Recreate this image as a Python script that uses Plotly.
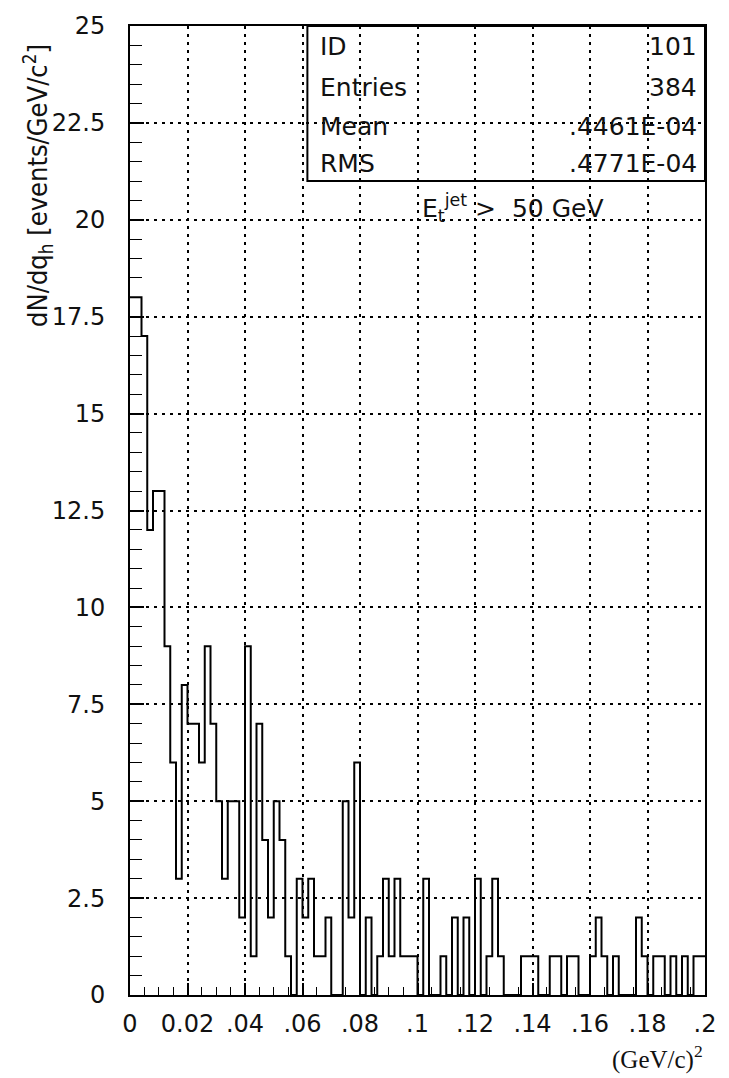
import numpy as np
import plotly.graph_objects as go

# ---------------- data ----------------
bin_lo = 0.0
bin_width = 0.002
counts = [
    18, 18, 17, 12, 13, 13, 9, 6, 3, 8,
    7, 7, 6, 9, 7, 5, 3, 5, 5, 2,
    9, 1, 7, 4, 2, 5, 4, 1, 0, 3,
    2, 3, 1, 1, 2, 0, 0, 5, 2, 6,
    0, 2, 0, 1, 3, 1, 3, 1, 1, 1,
    0, 3, 0, 0, 1, 0, 2, 0, 2, 0,
    3, 0, 1, 3, 1, 0, 0, 0, 1, 1,
    1, 0, 0, 1, 1, 0, 1, 1, 0, 0,
    1, 2, 1, 0, 1, 0, 0, 0, 2, 1,
    0, 1, 1, 0, 1, 0, 1, 0, 1, 1,
]
x_tick_vals = [0, 0.02, 0.04, 0.06, 0.08, 0.1, 0.12, 0.14, 0.16, 0.18, 0.2]
x_tick_text = ["0", "0.02", ".04", ".06", ".08", ".1", ".12", ".14", ".16", ".18", ".2"]
y_tick_vals = [0, 2.5, 5, 7.5, 10, 12.5, 15, 17.5, 20, 22.5, 25]
y_tick_text = ["0", "2.5", "5", "7.5", "10", "12.5", "15", "17.5", "20", "22.5", "25"]
stats_labels = ["ID", "Entries", "Mean", "RMS"]
stats_values = ["101", "384", ".4461E-04", ".4771E-04"]
cut_text = "E<sub>t</sub><sup>jet</sup> >  50 GeV"
y_title = "dN/dq<sub>h</sub> [events/GeV/c<sup>2</sup>]"
x_title = "(GeV/c)<sup>2</sup>"

# ---------------- figure ----------------
edges = bin_lo + bin_width * np.arange(len(counts) + 1)
step_y = list(counts) + [counts[-1]]

fig = go.Figure()
fig.add_trace(go.Scatter(
    x=edges, y=step_y, mode="lines",
    line=dict(shape="hv", color="black", width=2),
    showlegend=False, hoverinfo="skip",
))

SANS = "DejaVu Sans, Liberation Sans, sans-serif"
NARROW = "Liberation Sans Narrow, DejaVu Sans Condensed, sans-serif"
SERIF = "Liberation Serif, DejaVu Serif, serif"
grid_dash = "3px,5px"

fig.update_layout(
    width=729, height=1078,
    margin=dict(l=130, r=24, t=22, b=83),
    paper_bgcolor="white", plot_bgcolor="white",
    showlegend=False,
)

fig.update_xaxes(
    range=[0, 0.2], tickmode="array", tickvals=x_tick_vals, ticktext=x_tick_text,
    showgrid=True, gridcolor="black", gridwidth=1.6, griddash=grid_dash,
    zeroline=False, showline=True, linecolor="black", linewidth=2, mirror=True,
    ticks="inside", ticklen=12, tickwidth=1.5, tickcolor="black",
    minor=dict(dtick=0.005, tick0=0, ticks="inside", ticklen=8, tickwidth=1.2,
               tickcolor="black", showgrid=False),
    tickfont=dict(family=SANS, size=24, color="#111"),
    ticklabelstandoff=6,
)
fig.update_yaxes(
    range=[0, 25], tickmode="array", tickvals=y_tick_vals, ticktext=y_tick_text,
    showgrid=True, gridcolor="black", gridwidth=1.6, griddash=grid_dash,
    zeroline=False, showline=True, linecolor="black", linewidth=2, mirror=True,
    ticks="inside", ticklen=14, tickwidth=1.5, tickcolor="black",
    minor=dict(dtick=0.5, tick0=0, ticks="inside", ticklen=12, tickwidth=1.2,
               tickcolor="black", showgrid=False),
    tickfont=dict(family=SANS, size=24, color="#111"),
    ticklabelstandoff=18,
)

# stats box
fig.add_shape(type="rect", xref="x", yref="y", x0=0.0617, x1=0.2, y0=21.0, y1=25,
              line=dict(color="black", width=2), fillcolor="rgba(0,0,0,0)")
row_y = [0.979, 0.937, 0.896, 0.858]
for lab, val, yy in zip(stats_labels, stats_values, row_y):
    fig.add_annotation(text=lab, xref="paper", yref="paper", x=0.327, y=yy,
                       xanchor="left", yanchor="middle", showarrow=False,
                       font=dict(family=SANS, size=25, color="#111"))
    fig.add_annotation(text=val, xref="paper", yref="paper", x=0.99, y=yy,
                       xanchor="right", yanchor="middle", showarrow=False,
                       font=dict(family=SANS, size=25, color="#111"))

fig.add_annotation(text=cut_text, xref="paper", yref="paper", x=0.505, y=0.812,
                   xanchor="left", yanchor="middle", showarrow=False,
                   font=dict(family=SANS, size=25, color="#111"))

fig.add_annotation(text=y_title, xref="paper", yref="paper", x=-0.16, y=0.835,
                   xanchor="center", yanchor="middle", textangle=-90, showarrow=False,
                   font=dict(family=NARROW, size=27, color="#111"))

fig.add_annotation(text=x_title, xref="paper", yref="paper", x=1.0, y=-0.064,
                   xanchor="right", yanchor="middle", showarrow=False,
                   font=dict(family=SERIF, size=25, color="#111"))

fig.write_html("out.html")
